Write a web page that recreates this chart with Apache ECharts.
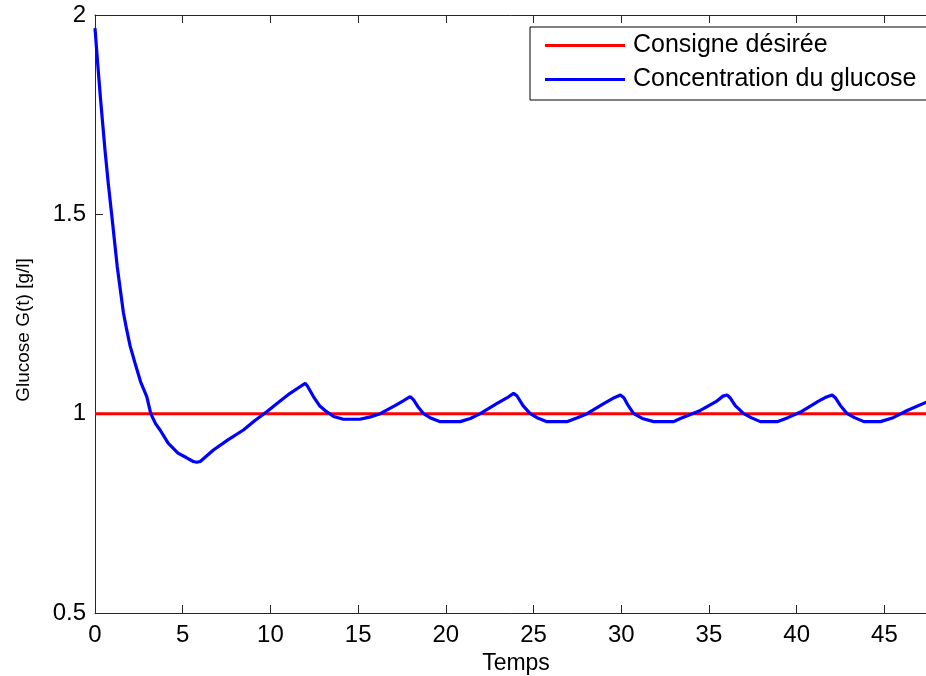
<!DOCTYPE html>
<html>
<head>
<meta charset="utf-8">
<script src="https://cdn.jsdelivr.net/npm/echarts@6/dist/echarts.min.js"></script>
<style>html,body{margin:0;padding:0;background:#fff}#c{width:926px;height:676px}</style>
</head>
<body>
<div id="c"></div>
<script>
var seriesNames = ['Consigne désirée', 'Concentration du glucose'];
var xTitle = 'Temps';
var yTitle = 'Glucose G(t) [g/l]';
var setpointT = [0, 48];
var setpointG = [1, 1];
var timeT = [0,0.15,0.32,0.57,0.75,0.95,1.27,1.62,1.81,2.0,2.28,2.6,2.95,3.18,3.45,3.71,4.17,4.73,5.2,5.6,5.8,6.0,6.75,7.6,8.46,9.1,9.79,10.5,11.12,11.6,11.98,12.1,12.45,12.8,13.2,13.6,14.16,15.1,15.7,16.26,17.1,17.6,17.97,18.15,18.4,18.73,19.1,19.68,20.82,21.4,21.96,22.9,23.5,23.86,24.05,24.4,24.81,25.2,25.77,26.9,27.5,28.05,29.0,29.6,29.95,30.15,30.4,30.71,31.2,31.85,32.99,33.37,34.51,35.4,35.8,36.03,36.2,36.5,36.98,37.4,37.93,38.88,39.5,40.22,41.2,41.7,42.02,42.2,42.5,42.88,43.3,43.83,44.78,45.5,46.3,47.4,48.0];
var glucoseG = [1.967,1.88,1.787,1.661,1.58,1.5,1.368,1.253,1.21,1.17,1.127,1.08,1.043,1.0,0.975,0.959,0.926,0.901,0.89,0.88,0.878,0.88,0.909,0.935,0.959,0.982,1.005,1.03,1.051,1.065,1.076,1.07,1.043,1.02,1.005,0.993,0.986,0.986,0.992,1.0,1.02,1.033,1.043,1.035,1.018,1.0,0.99,0.98,0.98,0.988,1.0,1.025,1.04,1.051,1.045,1.02,1.0,0.99,0.98,0.98,0.99,1.0,1.025,1.04,1.047,1.04,1.02,1.0,0.988,0.98,0.98,0.988,1.008,1.03,1.044,1.047,1.04,1.02,1.0,0.99,0.98,0.98,0.99,1.004,1.03,1.042,1.047,1.04,1.02,1.0,0.99,0.98,0.98,0.99,1.008,1.029,1.04];

function pairs(a, b) { return a.map(function (v, i) { return [v, b[i]]; }); }

var FONT = 'Liberation Sans, Arial, sans-serif';
var chart = echarts.init(document.getElementById('c'), null, {renderer: 'canvas'});
chart.setOption({
  animation: false,
  backgroundColor: '#ffffff',
  textStyle: {fontFamily: FONT, color: '#000'},
  grid: {left: 95, top: 15, right: -11, bottom: 63, containLabel: false, outerBoundsMode: 'none'},
  legend: {
    orient: 'vertical', left: 530, top: 27,
    padding: [6, 30, 8, 15], itemGap: 9, itemWidth: 80, itemHeight: 3,
    borderColor: '#000', borderWidth: 1, backgroundColor: '#fff',
    textStyle: {fontFamily: FONT, fontSize: 25, color: '#000', lineHeight: 25, padding: [0, 0, 0, 3]},
    itemStyle: {opacity: 0},
    data: [{name: seriesNames[0], icon: 'rect', itemStyle: {color: '#ff0000', opacity: 1}},
           {name: seriesNames[1], icon: 'rect', itemStyle: {color: '#0000ff', opacity: 1}}]
  },
  xAxis: [{
    type: 'value', min: 0, max: 48, interval: 5, position: 'bottom',
    name: xTitle, nameLocation: 'middle', nameGap: 38,
    nameTextStyle: {fontFamily: FONT, fontSize: 23, color: '#000'},
    axisLine: {show: true, onZero: false, lineStyle: {color: '#262626', width: 1}},
    axisTick: {show: true, inside: true, length: 8, lineStyle: {color: '#262626'}},
    axisLabel: {fontFamily: FONT, fontSize: 24, color: '#000', margin: 10, showMaxLabel: false},
    splitLine: {show: false}
  }, {
    type: 'value', min: 0, max: 48, interval: 5, position: 'top',
    axisLine: {show: true, onZero: false, lineStyle: {color: '#262626', width: 1}},
    axisTick: {show: true, inside: true, length: 8, lineStyle: {color: '#262626'}},
    axisLabel: {show: false}, splitLine: {show: false}
  }],
  yAxis: [{
    type: 'value', min: 0.5, max: 2, interval: 0.5,
    name: yTitle, nameLocation: 'middle', nameGap: 62,
    nameTextStyle: {fontFamily: FONT, fontSize: 19, color: '#000', padding: [0, 32, 0, 0]},
    axisLine: {show: true, onZero: false, lineStyle: {color: '#262626', width: 1}},
    axisTick: {show: true, inside: true, length: 8, lineStyle: {color: '#262626'}},
    axisLabel: {fontFamily: FONT, fontSize: 24, color: '#000', margin: 9},
    splitLine: {show: false}
  }],
  series: [{
    name: seriesNames[0], type: 'line', showSymbol: false, symbol: 'none',
    data: pairs(setpointT, setpointG), xAxisIndex: 0,
    lineStyle: {color: '#ff0000', width: 3}, itemStyle: {color: '#ff0000'}
  }, {
    name: seriesNames[1], type: 'line', showSymbol: false, symbol: 'none',
    data: pairs(timeT, glucoseG), xAxisIndex: 0,
    lineStyle: {color: '#0000ff', width: 3.2}, itemStyle: {color: '#0000ff'}
  }]
});
</script>
</body>
</html>
